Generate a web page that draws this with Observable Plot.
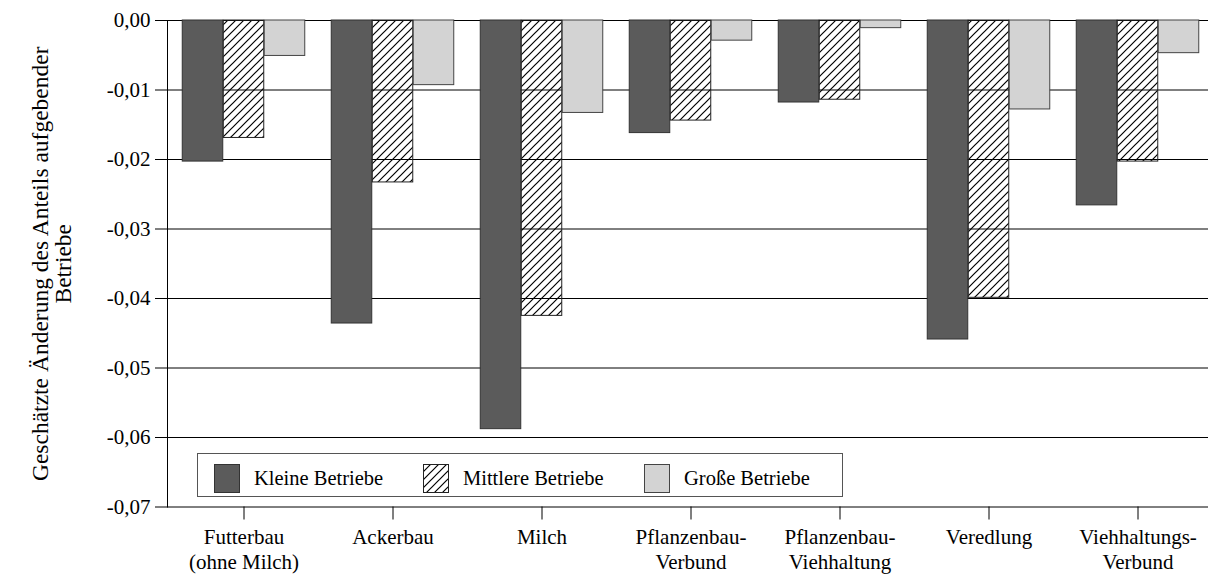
<!DOCTYPE html>
<html>
<head>
<meta charset="utf-8">
<script src="https://cdn.jsdelivr.net/npm/d3@7"></script>
<script src="https://cdn.jsdelivr.net/npm/@observablehq/plot@0.6"></script>
<style>
  html, body { margin: 0; padding: 0; background: #fff; overflow: hidden; }
  #wrap { position: relative; width: 1208px; height: 575px; font-family: "Liberation Serif", Tinos, "Times New Roman", Times, "Nimbus Roman", "Noto Serif", "DejaVu Serif", FreeSerif, serif; }
  #wrap svg text { font-family: "Liberation Serif", Tinos, "Times New Roman", Times, "Nimbus Roman", "Noto Serif", "DejaVu Serif", FreeSerif, serif; }
  #legend { position: absolute; left: 197px; top: 453px; width: 644px; height: 42px; border: 1px solid #555; background: #fff; box-sizing: content-box; }
  .item { position: absolute; top: 10px; display: flex; align-items: center; font-size: 20.5px; color: #000; height: 28px; }
  .item svg { margin-right: 14px; }
</style>
</head>
<body>
<div id="wrap"></div>
<script>
// ---- data ----
const categories = [
  "Futterbau\n(ohne Milch)",
  "Ackerbau",
  "Milch",
  "Pflanzenbau-\nVerbund",
  "Pflanzenbau-\nViehhaltung",
  "Veredlung",
  "Viehhaltungs-\nVerbund"
];
const series = ["Kleine Betriebe", "Mittlere Betriebe", "Große Betriebe"];
const kleine   = [-0.0203, -0.0436, -0.0588, -0.0162, -0.0118, -0.0459, -0.0266];
const mittlere = [-0.0169, -0.0233, -0.0425, -0.0144, -0.0114, -0.0399, -0.0203];
const grosse   = [-0.0051, -0.0093, -0.0133, -0.0029, -0.0011, -0.0128, -0.0047];
const yTicks = [0, -0.01, -0.02, -0.03, -0.04, -0.05, -0.06, -0.07];
const yTitle = "Geschätzte Änderung des Anteils aufgebender\nBetriebe";

const rows = (vals, s) => categories.map((c, i) => ({category: c, series: s, value: vals[i]}));
const dataK = rows(kleine, series[0]);
const dataM = rows(mittlere, series[1]);
const dataG = rows(grosse, series[2]);

const fillK = "#5b5b5b", fillG = "#d3d3d3";
const serif = "'Liberation Serif', Tinos, 'Times New Roman', Times, 'Nimbus Roman', 'Noto Serif', 'DejaVu Serif', FreeSerif, serif";

function hatchDefs() {
  const ns = "http://www.w3.org/2000/svg";
  const defs = document.createElementNS(ns, "defs");
  defs.innerHTML = `<pattern id="hatch" patternUnits="userSpaceOnUse" width="8" height="8">
    <path d="M-2,2 L2,-2 M0,8 L8,0 M6,10 L10,6" stroke="#000" stroke-width="1.2"/>
  </pattern>`;
  return defs;
}

const fmt = d => d.toFixed(2).replace(".", ",");

const step = 149.5;
const bw = 41;
const pad = (step - 3 * bw) / 2;

const chart = Plot.plot({
  width: 1208,
  height: 575,
  marginLeft: 167,
  marginRight: 0,
  marginTop: 20,
  marginBottom: 68.5,
  style: {fontFamily: serif, fontSize: "20px", color: "#000", background: "#fff"},
  x: {domain: categories, range: [167, 167 + 7 * step], padding: 0},
  y: {domain: [-0.07, 0]},
  marks: [
    hatchDefs,
    Plot.ruleY(yTicks, {stroke: "#000", strokeWidth: 1}),
    Plot.barY(dataK, {x: "category", y: "value", fill: fillK, stroke: "#333", strokeWidth: 1,
      insetLeft: pad, insetRight: step - pad - bw}),
    Plot.barY(dataM, {x: "category", y: "value", fill: "url(#hatch)", stroke: "#222", strokeWidth: 1,
      insetLeft: pad + bw, insetRight: pad + bw}),
    Plot.barY(dataG, {x: "category", y: "value", fill: fillG, stroke: "#444", strokeWidth: 1,
      insetLeft: step - pad - bw, insetRight: pad}),
    Plot.frame({anchor: "left", stroke: "#000"}),
    Plot.axisY({ticks: yTicks, tickFormat: fmt, tickSize: 12, tickPadding: 5, label: null, fontSize: 21}),
    Plot.axisX({tickSize: 13, tickPadding: 6, label: null, fontSize: 21, lineHeight: 1.2}),
    Plot.text([yTitle], {frameAnchor: "left", rotate: -90, dx: -115.5, lineHeight: 1.0, fontSize: 23.5,
      lineAnchor: "middle", textAnchor: "middle"})
  ]
});

const wrap = document.getElementById("wrap");
wrap.appendChild(chart);

// legend (inside plot area)
const legend = document.createElement("div");
legend.id = "legend";
const swatch = (fill, stroke) => `<svg width="26" height="29"><defs><pattern id="hatchL" patternUnits="userSpaceOnUse" width="8" height="8"><path d="M-2,2 L2,-2 M0,8 L8,0 M6,10 L10,6" stroke="#000" stroke-width="1.2"/></pattern></defs><rect x="0.5" y="0.5" width="25" height="28" fill="${fill}" stroke="${stroke}"/></svg>`;
const items = [
  {label: series[0], fill: fillK, stroke: "#333", left: 16},
  {label: series[1], fill: "url(#hatchL)", stroke: "#222", left: 225},
  {label: series[2], fill: fillG, stroke: "#444", left: 446}
];
legend.innerHTML = items.map(it => `<div class="item" style="left:${it.left}px">${swatch(it.fill, it.stroke)}<span>${it.label}</span></div>`).join("");
wrap.appendChild(legend);
</script>
</body>
</html>
